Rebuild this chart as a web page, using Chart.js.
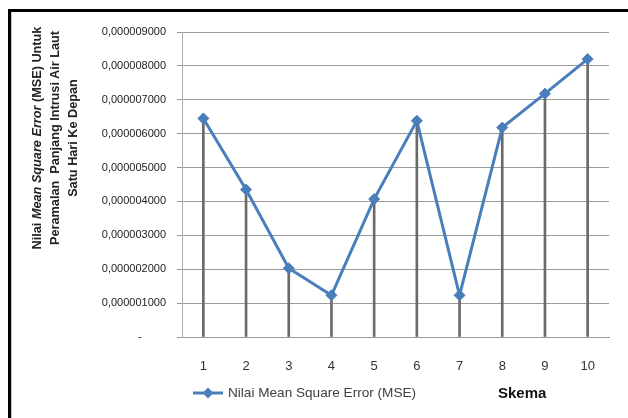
<!DOCTYPE html>
<html>
<head>
<meta charset="utf-8">
<script src="https://cdn.jsdelivr.net/npm/chart.js@4.4.1/dist/chart.umd.min.js"></script>
<style>
  html, body { margin: 0; padding: 0; background: #ffffff; }
  #wrap { position: relative; width: 628px; height: 418px; overflow: hidden; }
  #frame {
    position: absolute; left: 8px; top: 9px; width: 700px; height: 500px;
    border-top: 3px solid #000; border-left: 3px solid #000;
    box-shadow: inset 1px 0 0 #c8c8c8;
  }
  #chart { position: absolute; left: 0; top: 0; }
  #ytitle {
    position: absolute; left: 55px; top: 138px; width: 240px;
    transform: translate(-50%, -50%) rotate(-90deg);
    text-align: center; font: bold 12.7px "Liberation Sans", Arial, sans-serif;
    line-height: 18px; color: #222; white-space: nowrap;
  }
</style>
</head>
<body>
<div id="wrap">
  <div id="frame"></div>
  <canvas id="chart" width="628" height="418"></canvas>
  <div id="ytitle">Nilai <i>Mean Square Error</i> (MSE) Untuk<br>Peramalan&nbsp; Panjang Intrusi Air Laut<br>Satu Hari Ke Depan</div>
</div>
<script>
// Skema 1..10 and their MSE values
const skema = ['1', '2', '3', '4', '5', '6', '7', '8', '9', '10'];
const mse = [6.45e-6, 4.35e-6, 2.03e-6, 1.23e-6, 4.07e-6, 6.38e-6, 1.23e-6, 6.18e-6, 7.18e-6, 8.20e-6];
const seriesName = 'Nilai Mean Square Error (MSE)';
const xTitle = 'Skema';
const yMin = 0, yMax = 9e-6, yStep = 1e-6;

const lineColor = '#4a7ebb';

// legend entry (line + diamond) and the x-axis title on one row below the axis
const legendRow = {
  id: 'legendRow',
  afterDraw(chart) {
    const ctx = chart.ctx;
    const ds = chart.data.datasets[0];
    const y = 393;
    ctx.save();
    ctx.strokeStyle = ds.borderColor;
    ctx.lineWidth = 3;
    ctx.beginPath(); ctx.moveTo(193, y); ctx.lineTo(223, y); ctx.stroke();
    ctx.fillStyle = ds.borderColor;
    ctx.beginPath();
    ctx.moveTo(208, y - 5.5); ctx.lineTo(213.5, y); ctx.lineTo(208, y + 5.5); ctx.lineTo(202.5, y);
    ctx.closePath(); ctx.fill();
    ctx.fillStyle = '#404040';
    ctx.font = '13.6px "Liberation Sans", Arial, sans-serif';
    ctx.textBaseline = 'middle';
    ctx.textAlign = 'left';
    ctx.fillText(ds.label, 228, y);
    ctx.fillStyle = '#111';
    ctx.font = 'bold 15px "Liberation Sans", Arial, sans-serif';
    ctx.fillText(xTitle, 498, y + 1);
    ctx.restore();
  }
};

new Chart(document.getElementById('chart'), {
  data: {
    labels: skema,
    datasets: [
      {
        type: 'line',
        label: seriesName,
        data: mse,
        borderColor: lineColor,
        backgroundColor: lineColor,
        borderWidth: 3,
        pointStyle: 'rectRot',
        pointRadius: 5.5,
        pointBorderWidth: 1,
        tension: 0,
        order: 0
      },
      {
        // drop lines from each point to the axis
        type: 'bar',
        label: 'drop',
        data: mse,
        backgroundColor: '#6a6a6a',
        barThickness: 2,
        order: 1
      }
    ]
  },
  options: {
    responsive: false,
    animation: false,
    layout: { padding: { left: 90, right: 19, top: 32, bottom: 39 } },
    plugins: { legend: { display: false }, tooltip: { enabled: false } },
    scales: {
      x: {
        type: 'category',
        offset: true,
        grid: { display: false, drawTicks: false },
        border: { display: true, color: '#9a9a9a', width: 1 },
        ticks: {
          color: '#333',
          padding: 22,
          maxRotation: 0,
          font: { family: '"Liberation Sans", Arial, sans-serif', size: 13 }
        },
        afterFit(scale) { scale.height = 42; }
      },
      y: {
        min: yMin,
        max: yMax,
        grid: { color: '#9a9a9a', lineWidth: 1, tickLength: 5 },
        border: { display: true, color: '#b0b0b0', width: 1 },
        ticks: {
          stepSize: yStep,
          padding: 11,
          color: '#222',
          font: { family: '"Liberation Sans", Arial, sans-serif', size: 11 },
          callback(v) {
            if (Math.abs(v) < 1e-12) return '-        ';
            return Number(v).toFixed(9).replace('.', ',');
          }
        },
        afterFit(scale) { scale.width = 92; }
      }
    }
  },
  plugins: [legendRow]
});
</script>
</body>
</html>
